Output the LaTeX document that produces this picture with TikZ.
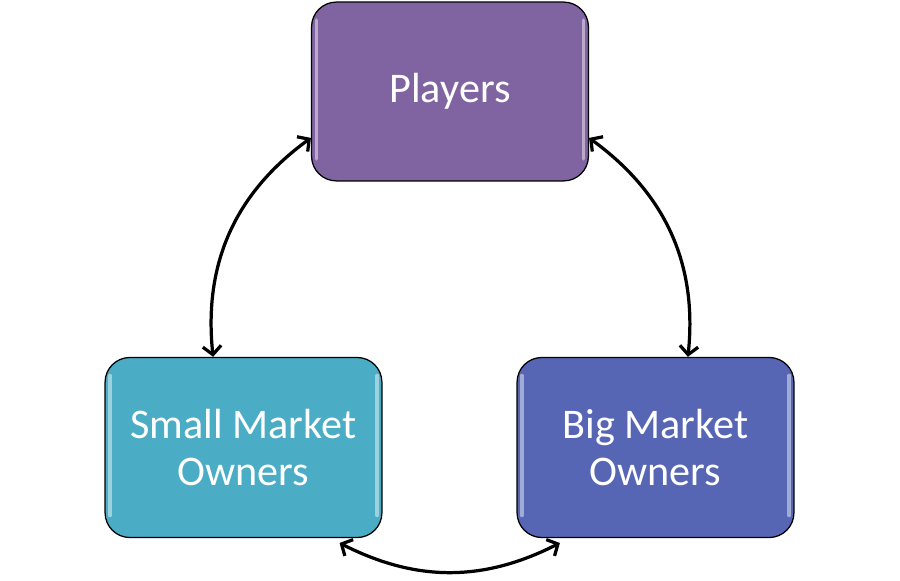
\documentclass[tikz,border=0pt]{standalone}
\usepackage{fontspec}
\setmainfont{Carlito}
\usepackage{xcolor}
\usetikzlibrary{arrows.meta}

\definecolor{playerpurple}{RGB}{128,100,162}
\definecolor{smallaqua}{RGB}{75,172,198}
\definecolor{bigblue}{RGB}{87,102,180}

\tikzset{
  ownerbox/.style={draw=black, line width=0.9pt, rounded corners=0.62cm,
    minimum width=6.92cm, minimum height=4.5cm, text=white, align=center,
    font=\fontsize{30}{33}\selectfont,
    path picture={
      \draw[white, opacity=0.45, line width=2.4pt, line cap=round]
        ([xshift=0.12cm,yshift=-0.45cm]path picture bounding box.north west) --
        ([xshift=0.12cm,yshift=0.55cm]path picture bounding box.south west);
      \draw[white, opacity=0.45, line width=2.4pt, line cap=round]
        ([xshift=-0.12cm,yshift=-0.45cm]path picture bounding box.north east) --
        ([xshift=-0.12cm,yshift=0.55cm]path picture bounding box.south east);
    }},
  link/.style={<->, >={Straight Barb[length=6pt,width=13pt]}, line width=2.3pt}
}

\begin{document}
\begin{tikzpicture}[x=0.025cm, y=0.025cm]
  \useasboundingbox (0,0) rectangle (900,580);

  \node[ownerbox, fill=playerpurple, minimum height=4.47cm] (players) at (450,488.5) {Players};
  \node[ownerbox, fill=smallaqua] (small) at (243.5,132.5) {Small Market\\Owners};
  \node[ownerbox, fill=bigblue] (big) at (655.5,132.5) {Big Market\\Owners};

  % arcs round a common circle
  \draw[link] ([xshift=-0.76cm]small.north) to[out=96, in=216] ([yshift=-1.16cm]players.west);
  \draw[link] ([yshift=-1.16cm]players.east) to[out=-36, in=84] ([xshift=0.81cm]big.north);
  \draw[link] ([xshift=2.4cm,yshift=-0.12cm]small.south) to[out=-27, in=207] ([xshift=-2.39cm,yshift=-0.12cm]big.south);
\end{tikzpicture}
\end{document}
